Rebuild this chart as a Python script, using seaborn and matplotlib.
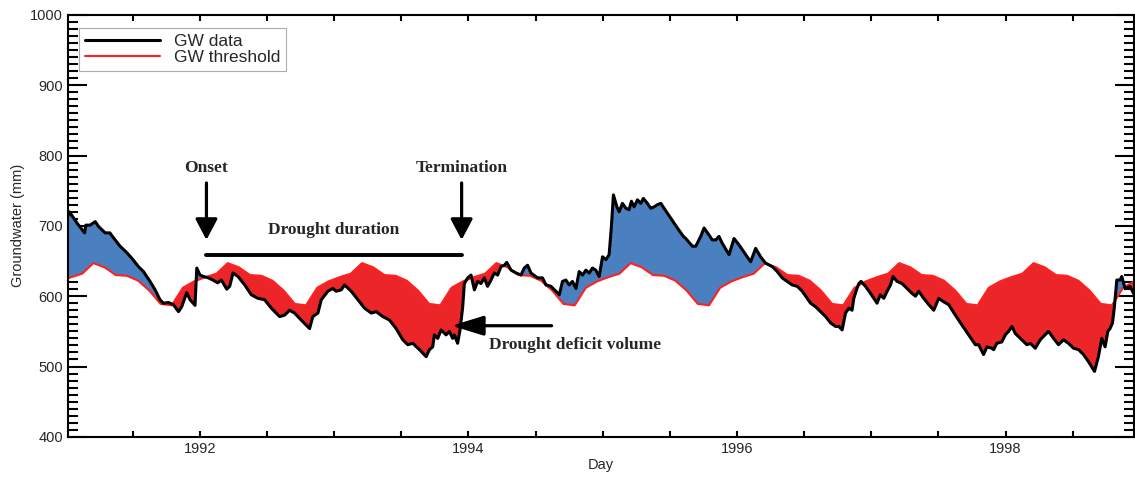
import numpy as np
import matplotlib
matplotlib.use("Agg")
import matplotlib.pyplot as plt
import seaborn as sns
from matplotlib.ticker import MultipleLocator, FuncFormatter

# groundwater level (decimal year, mm)
gw_year = [
    1991.019, 1991.030, 1991.086, 1991.143, 1991.152, 1991.184, 1991.222, 1991.247,
    1991.296, 1991.331, 1991.358, 1991.407, 1991.457, 1991.494, 1991.544, 1991.581,
    1991.630, 1991.668, 1991.704, 1991.730, 1991.767, 1991.804, 1991.842, 1991.866,
    1991.903, 1991.928, 1991.965, 1991.978, 1992.002, 1992.028, 1992.065, 1992.097,
    1992.134, 1992.161, 1992.201, 1992.223, 1992.248, 1992.285, 1992.335, 1992.384,
    1992.433, 1992.483, 1992.533, 1992.595, 1992.632, 1992.669, 1992.706, 1992.756,
    1992.818, 1992.842, 1992.880, 1992.905, 1992.954, 1992.991, 1993.016, 1993.054,
    1993.078, 1993.128, 1993.177, 1993.227, 1993.277, 1993.314, 1993.363, 1993.413,
    1993.462, 1993.512, 1993.549, 1993.586, 1993.636, 1993.686, 1993.710, 1993.735,
    1993.747, 1993.772, 1993.797, 1993.834, 1993.859, 1993.883, 1993.896, 1993.920,
    1993.938, 1993.958, 1993.970, 1993.995, 1994.020, 1994.045, 1994.069, 1994.094,
    1994.119, 1994.143, 1994.169, 1994.193, 1994.218, 1994.243, 1994.268, 1994.286,
    1994.318, 1994.355, 1994.392, 1994.416, 1994.441, 1994.466, 1994.515, 1994.552,
    1994.578, 1994.615, 1994.652, 1994.677, 1994.701, 1994.726, 1994.751, 1994.775,
    1994.801, 1994.825, 1994.850, 1994.875, 1994.900, 1994.924, 1994.949, 1994.974,
    1994.999, 1995.024, 1995.048, 1995.065, 1995.080, 1995.106, 1995.123, 1995.147,
    1995.173, 1995.197, 1995.214, 1995.234, 1995.259, 1995.284, 1995.303, 1995.333,
    1995.358, 1995.383, 1995.407, 1995.433, 1995.457, 1995.507, 1995.556, 1995.601,
    1995.619, 1995.668, 1995.693, 1995.730, 1995.755, 1995.792, 1995.816, 1995.842,
    1995.866, 1995.891, 1995.941, 1995.978, 1996.015, 1996.065, 1996.102, 1996.139,
    1996.176, 1996.213, 1996.263, 1996.300, 1996.337, 1996.374, 1996.411, 1996.449,
    1996.486, 1996.523, 1996.548, 1996.585, 1996.622, 1996.660, 1996.697, 1996.734,
    1996.758, 1996.783, 1996.808, 1996.833, 1996.857, 1996.870, 1996.890, 1996.907,
    1996.924, 1996.957, 1996.994, 1997.043, 1997.067, 1997.093, 1997.118, 1997.143,
    1997.162, 1997.192, 1997.229, 1997.266, 1997.303, 1997.329, 1997.353, 1997.390,
    1997.428, 1997.465, 1997.502, 1997.539, 1997.576, 1997.626, 1997.675, 1997.725,
    1997.775, 1997.799, 1997.836, 1997.861, 1997.898, 1997.911, 1997.935, 1997.972,
    1997.998, 1998.022, 1998.047, 1998.072, 1998.121, 1998.158, 1998.184, 1998.221,
    1998.258, 1998.283, 1998.320, 1998.357, 1998.394, 1998.431, 1998.468, 1998.506,
    1998.543, 1998.580, 1998.617, 1998.662, 1998.691, 1998.716, 1998.741, 1998.761,
    1998.778, 1998.796, 1998.810, 1998.828, 1998.853, 1998.865, 1998.890, 1998.927,
    1998.952,
]
gw_mm = [
    714, 720, 704, 690, 701, 701, 706, 699,
    690, 690, 683, 671, 662, 654, 642, 635,
    621, 609, 595, 590, 591, 588, 578, 585,
    605, 595, 587, 640, 630, 628, 626, 623,
    619, 623, 610, 614, 633, 628, 616, 602,
    597, 595, 583, 571, 573, 580, 576, 566,
    554, 571, 576, 595, 607, 611, 607, 609,
    616, 607, 595, 583, 576, 578, 571, 566,
    554, 538, 531, 533, 524, 514, 524, 528,
    545, 540, 552, 545, 550, 540, 545, 533,
    552, 585, 618, 626, 630, 609, 621, 618,
    626, 614, 623, 633, 630, 642, 644, 648,
    637, 633, 630, 640, 644, 633, 626, 626,
    616, 614, 607, 602, 621, 623, 616, 621,
    611, 635, 630, 637, 633, 640, 637, 628,
    656, 652, 659, 699, 744, 727, 720, 732,
    725, 723, 735, 727, 737, 732, 739, 732,
    725, 727, 730, 732, 725, 711, 697, 685,
    682, 671, 671, 685, 697, 687, 680, 680,
    685, 675, 659, 682, 673, 659, 649, 668,
    656, 647, 642, 635, 626, 621, 616, 614,
    607, 597, 590, 585, 578, 571, 562, 557,
    557, 552, 576, 583, 580, 597, 609, 618,
    621, 614, 604, 590, 602, 597, 607, 616,
    628, 621, 618, 611, 604, 600, 607, 597,
    588, 580, 597, 592, 588, 573, 559, 545,
    531, 531, 517, 528, 526, 524, 533, 535,
    545, 550, 557, 547, 538, 531, 533, 526,
    538, 543, 550, 540, 531, 538, 533, 526,
    524, 517, 507, 493, 514, 540, 528, 550,
    554, 562, 585, 623, 623, 628, 611, 614,
    604,
]

# monthly drought threshold (mid-month values, same every year)
thr_monthly = [627, 632, 647, 641, 630, 629, 622, 608, 589, 587, 612, 621]
thr_years = list(range(1990, 2000))

# annotation anchors
onset_year = 1992.05
termination_year = 1993.95
duration_level = 659
deficit_year = 1993.875
deficit_level = 558

sns.set_style("ticks")
plt.rcParams["font.family"] = ["Liberation Sans", "DejaVu Sans"]

gw_year = np.array(gw_year)
gw_mm = np.array(gw_mm, dtype=float)
thr_x = np.array([y + (m + 0.5) / 12 for y in thr_years for m in range(12)])
thr_y = np.tile(thr_monthly, len(thr_years)).astype(float)

# shared x grid so the fill follows both lines
inside = (thr_x > gw_year[0]) & (thr_x < gw_year[-1])
x_all = np.union1d(gw_year, thr_x[inside])
gw_all = np.interp(x_all, gw_year, gw_mm)
thr_all = np.interp(x_all, thr_x, thr_y)

fig, ax = plt.subplots(figsize=(11.35, 4.79), dpi=100)
fig.subplots_adjust(left=0.06, right=0.999, top=0.969, bottom=0.088)

ax.fill_between(x_all, gw_all, thr_all, where=gw_all >= thr_all, interpolate=True,
                color="#4a80c0", lw=0, zorder=1)
ax.fill_between(x_all, gw_all, thr_all, where=gw_all < thr_all, interpolate=True,
                color="#ec2628", lw=0, zorder=1)

sns.lineplot(x=gw_year, y=gw_mm, ax=ax, color="black", lw=2.2, estimator=None,
             label="GW data", zorder=3)
sns.lineplot(x=thr_x, y=thr_y, ax=ax, color="#ff2020", lw=1.5, estimator=None,
             label="GW threshold", zorder=2)

ax.set_xlim(1991.02, 1998.955)
ax.set_ylim(400, 1000)
ax.xaxis.set_major_locator(MultipleLocator(2))
ax.xaxis.set_minor_locator(MultipleLocator(0.5))
ax.xaxis.set_major_formatter(FuncFormatter(lambda v, p: f"{int(round(v))}"))
ax.yaxis.set_major_locator(MultipleLocator(100))
ax.yaxis.set_minor_locator(MultipleLocator(10))
ax.tick_params(which="both", direction="in", top=True, right=True, width=1.5,
               labelsize=10.5, color="black")
ax.tick_params(axis="y", which="major", length=14)
ax.tick_params(axis="y", which="minor", length=7)
ax.tick_params(axis="x", which="both", length=4)
for sp in ax.spines.values():
    sp.set_linewidth(1.5)
    sp.set_color("black")

ax.set_xlabel("Day", fontsize=10.5, labelpad=2)
ax.set_ylabel("Groundwater (mm)", fontsize=10.5, labelpad=4)

leg = ax.legend(loc="upper left", bbox_to_anchor=(0.0103, 0.969), borderaxespad=0,
                fontsize=12.5, handlelength=4.3, handletextpad=0.8, frameon=True,
                fancybox=False, labelspacing=0.05, borderpad=0.35)
leg.get_frame().set_edgecolor("#999999")
leg.get_frame().set_linewidth(0.8)
leg._legend_box.align = "left"

serif = dict(family=["Liberation Serif", "DejaVu Serif"], weight="bold", fontsize=12.5)
arrow = dict(arrowstyle="-|>,head_length=0.85,head_width=0.45", lw=2.3, color="black",
             shrinkA=0, shrinkB=0, mutation_scale=15)

ax.text(onset_year, 782, "Onset", ha="center", va="center", **serif)
ax.annotate("", xy=(onset_year, 680), xytext=(onset_year, 761), arrowprops=arrow)
ax.text(termination_year, 782, "Termination", ha="center", va="center", **serif)
ax.annotate("", xy=(termination_year, 680), xytext=(termination_year, 761), arrowprops=arrow)
ax.plot([onset_year, termination_year], [duration_level, duration_level], color="black", lw=2.8)
ax.text((onset_year + termination_year) / 2, 694, "Drought duration", ha="center",
        va="center", **serif)

big_arrow = dict(arrow, arrowstyle="-|>,head_length=1.3,head_width=0.4")
ax.annotate("", xy=(deficit_year, deficit_level), xytext=(1994.62, deficit_level),
            arrowprops=big_arrow)
ax.text(1994.156, 531, "Drought deficit volume", ha="left", va="center", **serif)

fig.savefig("out.png", dpi=100)
